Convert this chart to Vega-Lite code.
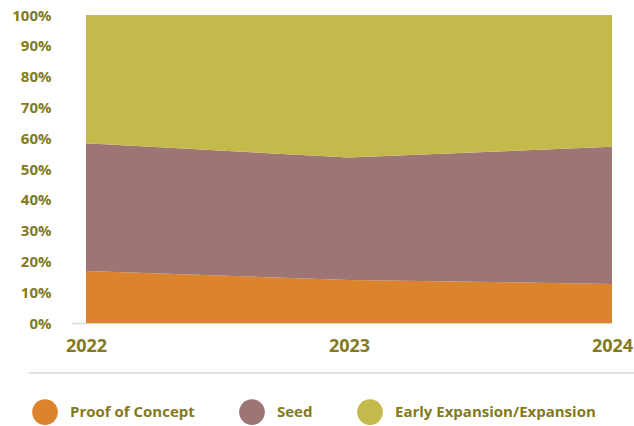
{
  "$schema": "https://vega.github.io/schema/vega-lite/v6.json",
  "width": 541,
  "height": 308,
  "autosize": {"type": "none"},
  "padding": {"left": 71, "top": 15, "right": 22, "bottom": 103},
  "background": "white",
  "config": {
    "view": {"stroke": null},
    "font": "Open Sans",
    "axis": {"labelOverlap": false},
    "axisX": {"labelOverlap": false, "labelFlush": false}
  },
  "layer": [
    {
      "data": {
        "values": [
          {"year": 2022, "stage": "Proof of Concept", "k": 1, "pct": 0.169},
          {"year": 2023, "stage": "Proof of Concept", "k": 1, "pct": 0.140},
          {"year": 2024, "stage": "Proof of Concept", "k": 1, "pct": 0.127},
          {"year": 2022, "stage": "Seed", "k": 2, "pct": 0.415},
          {"year": 2023, "stage": "Seed", "k": 2, "pct": 0.397},
          {"year": 2024, "stage": "Seed", "k": 2, "pct": 0.445},
          {"year": 2022, "stage": "Early Expansion/Expansion", "k": 3, "pct": 0.416},
          {"year": 2023, "stage": "Early Expansion/Expansion", "k": 3, "pct": 0.463},
          {"year": 2024, "stage": "Early Expansion/Expansion", "k": 3, "pct": 0.428}
        ]
      },
      "mark": {"type": "area", "opacity": 1},
      "encoding": {
        "x": {
          "field": "year",
          "type": "quantitative",
          "scale": {"domain": [2021.943, 2024], "nice": false, "zero": false},
          "axis": {
            "values": [2022, 2023, 2024],
            "tickCount": 20,
            "tickMinStep": 0.1,
            "format": ".0f",
            "title": null,
            "grid": false,
            "ticks": false,
            "domainColor": "#d9d9d9",
            "domainWidth": 1.5,
            "labelFontSize": 18,
            "labelFontWeight": "bold",
            "labelColor": "#837A1D",
            "labelPadding": 14,
            "labelFlush": false,
            "labelOverlap": false
          }
        },
        "y": {
          "field": "pct",
          "type": "quantitative",
          "stack": "zero",
          "scale": {"domain": [0, 1], "nice": false},
          "axis": {
            "values": [0, 0.1, 0.2, 0.3, 0.4, 0.5, 0.6, 0.7, 0.8, 0.9, 1],
            "tickCount": 20,
            "format": ".0%",
            "title": null,
            "grid": false,
            "ticks": false,
            "domain": false,
            "labelFontSize": 15,
            "labelFontWeight": "bold",
            "labelColor": "#837A1D",
            "labelPadding": 20,
            "labelOverlap": false
          }
        },
        "color": {
          "field": "stage",
          "type": "nominal",
          "scale": {
            "domain": ["Proof of Concept", "Seed", "Early Expansion/Expansion"],
            "range": ["#DC842B", "#9C7574", "#C4B94B"]
          },
          "legend": {
            "title": null,
            "orient": "none",
            "direction": "horizontal",
            "legendX": -39,
            "legendY": 384,
            "symbolType": "circle",
            "symbolSize": 660,
            "symbolStrokeWidth": 0,
            "labelFontSize": 15,
            "labelFontWeight": "bold",
            "labelColor": "#837A1D",
            "labelOffset": 12,
            "columnPadding": 44,
            "labelLimit": 400
          }
        },
        "order": {"field": "k", "type": "quantitative"}
      }
    },
    {
      "data": {"values": [{"x1": 2021.783, "x2": 2024.084, "y": -0.162}]},
      "mark": {"type": "rule", "color": "#d9d9d9", "strokeWidth": 1.5, "clip": false},
      "encoding": {
        "x": {
          "field": "x1",
          "type": "quantitative",
          "axis": {
            "values": [2022, 2023, 2024],
            "tickCount": 20,
            "tickMinStep": 0.1,
            "format": ".0f",
            "title": null,
            "grid": false,
            "ticks": false,
            "domainColor": "#d9d9d9",
            "domainWidth": 1.5,
            "labelFontSize": 18,
            "labelFontWeight": "bold",
            "labelColor": "#837A1D",
            "labelPadding": 14,
            "labelFlush": false,
            "labelOverlap": false
          }
        },
        "x2": {"field": "x2"},
        "y": {
          "field": "y",
          "type": "quantitative",
          "axis": {
            "values": [0, 0.1, 0.2, 0.3, 0.4, 0.5, 0.6, 0.7, 0.8, 0.9, 1],
            "tickCount": 20,
            "format": ".0%",
            "title": null,
            "grid": false,
            "ticks": false,
            "domain": false,
            "labelFontSize": 15,
            "labelFontWeight": "bold",
            "labelColor": "#837A1D",
            "labelPadding": 20,
            "labelOverlap": false
          }
        }
      }
    }
  ]
}
